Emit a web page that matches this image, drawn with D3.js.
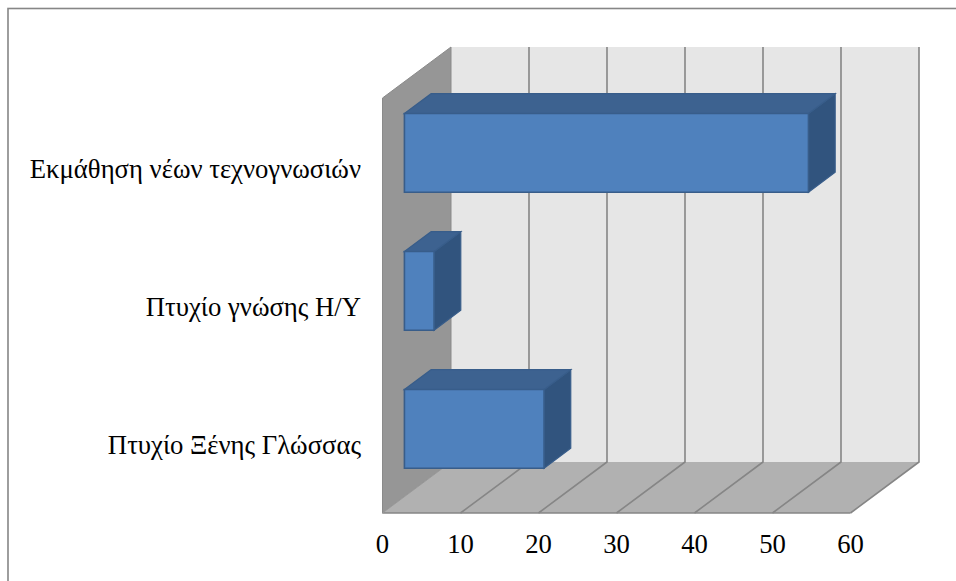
<!DOCTYPE html>
<html><head><meta charset="utf-8">
<script src="https://d3js.org/d3.v7.min.js"></script>
<style>html,body{margin:0;background:#fff}svg{display:block}</style></head>
<body><svg width="956" height="581"></svg>
<script>
const categories = ["Εκμάθηση νέων τεχνογνωσιών","Πτυχίο γνώσης Η/Υ","Πτυχίο Ξένης Γλώσσας"];
const values = [51.8,3.8,17.9];
const ticks = [0,10,20,30,40,50,60];

const svg = d3.select("svg");
const font = "'Liberation Serif','Times New Roman',serif";
const x = d3.scaleLinear().domain([0,60]).range([382.5,850.5]);
const y = d3.scaleBand().domain(categories).range([99,513]).paddingInner(0.43).paddingOuter(0.215);
const depthX = d3.scaleLinear().domain([0,1]).range([0,68.5]);
const depthY = d3.scaleLinear().domain([0,1]).range([0,-51]);
const p = (v,yy,d)=>[x(v)+depthX(d),yy+depthY(d)];
const line = d3.line();
const poly = pts=>line(pts)+"Z";

svg.append("rect").attr("x",8).attr("y",8.5).attr("width",960).attr("height",600)
  .attr("fill","#fff").attr("stroke","#868686").attr("stroke-width",1.6);

const yTop=98, yBot=513;
svg.append("path").attr("d",poly([p(0,yTop,1),p(60,yTop,1),p(60,yBot,1),p(0,yBot,1)])).attr("fill","#e6e6e6");
svg.append("path").attr("d",poly([p(0,yTop,0),p(0,yTop,1),p(0,yBot,1),p(0,yBot,0)])).attr("fill","#969696").attr("stroke","#8a8a8a").attr("stroke-width",1);
svg.append("path").attr("d",poly([p(0,yBot,0),p(0,yBot,1),p(60,yBot,1),p(60,yBot,0)])).attr("fill","#b1b1b1");

svg.selectAll(".g").data(ticks.slice(1)).join("path").attr("class","g")
  .attr("d",t=>line([p(t,yBot,0),p(t,yBot,1),p(t,yTop,1)]))
  .attr("fill","none").attr("stroke","#868686").attr("stroke-width",1.6);
svg.append("path").attr("d",line([p(0,yBot,0),p(60,yBot,0)])).attr("stroke","#868686").attr("stroke-width",1.6).attr("fill","none");
svg.append("path").attr("d",line([p(0,yBot,0),p(0,yBot,1)])).attr("stroke","#9a9a9a").attr("stroke-width",1).attr("fill","none");

const d0=0.32,d1=0.71;
const bars = svg.selectAll(".bar").data(categories).join("g").attr("class","bar");
const H=y.bandwidth();
const sy=c=>y(c)+H+1.2;
bars.append("path").attr("d",(c,i)=>{const b=sy(c);return poly([p(values[i],b,d0),p(values[i],b,d1),p(values[i],b-H,d1),p(values[i],b-H,d0)])})
  .attr("fill","#31547e").attr("stroke","#385d8a").attr("stroke-width",1.2);
bars.append("path").attr("d",(c,i)=>{const b=sy(c)-H;return poly([p(0,b,d0),p(0,b,d1),p(values[i],b,d1),p(values[i],b,d0)])})
  .attr("fill","#3d6290").attr("stroke","#385d8a").attr("stroke-width",1.2);
bars.append("path").attr("d",(c,i)=>{const b=sy(c);return poly([p(0,b,d0),p(values[i],b,d0),p(values[i],b-H,d0),p(0,b-H,d0)])})
  .attr("fill","#4f81bd").attr("stroke","#385d8a").attr("stroke-width",1.6);

svg.selectAll(".xl").data(ticks).join("text").attr("class","xl")
  .attr("x",t=>x(t)).attr("y",553).attr("text-anchor","middle")
  .attr("font-family",font).attr("font-size",26.7).attr("fill","#000").text(t=>t);
svg.selectAll(".yl").data(categories).join("text").attr("class","yl")
  .attr("x",361).attr("y",c=>y(c)+H/2+10.2).attr("text-anchor","end")
  .attr("font-family",font).attr("font-size",26.7).attr("fill","#000").text(c=>c);
</script></body></html>
